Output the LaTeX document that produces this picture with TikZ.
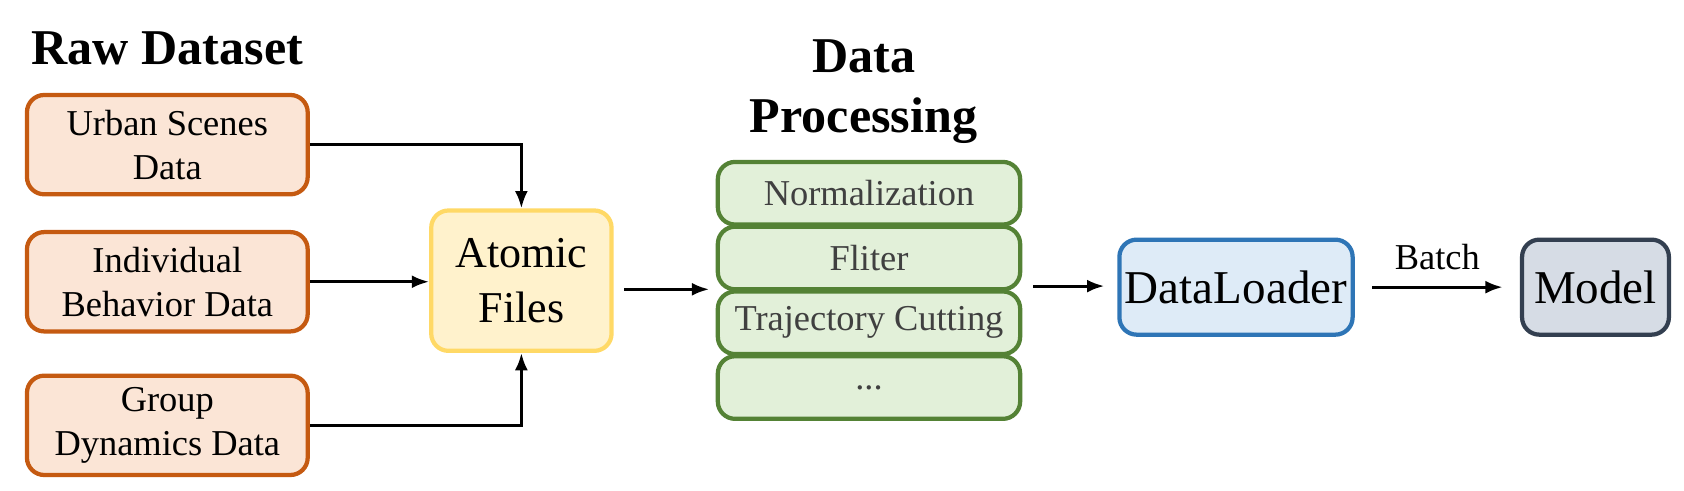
\documentclass[tikz,border=0pt]{standalone}
\usepackage{fontspec}
\setmainfont{Liberation Serif}
\usetikzlibrary{arrows.meta}
\definecolor{rawfill}{HTML}{FBE5D6}
\definecolor{rawdraw}{HTML}{C55A11}
\definecolor{atomfill}{HTML}{FFF2CC}
\definecolor{atomdraw}{HTML}{FFD966}
\definecolor{procfill}{HTML}{E2F0D9}
\definecolor{procdraw}{HTML}{548235}
\definecolor{loadfill}{HTML}{DEEBF7}
\definecolor{loaddraw}{HTML}{2E75B6}
\definecolor{modelfill}{HTML}{D6DCE5}
\definecolor{modeldraw}{HTML}{333F50}
\tikzset{
	>={Latex[length=4mm,width=3mm]},
	block/.style={
		rectangle,
		rounded corners=0.4cm,
		line width=2.8pt,
		align=center,
		inner sep=0pt
	},
	raw/.style={block, draw=rawdraw, fill=rawfill, minimum width=6.5cm, minimum height=2.3cm, font=\fontsize{24}{29}\selectfont},
	proc/.style={block, draw=procdraw, fill=procfill, minimum width=7cm, minimum height=1.45cm, text=black!75, font=\fontsize{24}{29}\selectfont},
	head/.style={font=\bfseries\fontsize{33}{40}\selectfont, align=center},
	link/.style={->, line width=2pt}
}
\begin{document}
\begin{tikzpicture}[x=0.025cm, y=-0.025cm]
	\useasboundingbox (0,0) rectangle (1560,454);

	\node[head] (rawtitle) at (155,45) {Raw Dataset};
	\node[head] (proctitle) at (800,85) {Data\\Processing};

	\node[raw] (urban) at (155,134) {Urban Scenes\\Data};
	\node[raw] (indiv) at (155,261) {Individual\\Behavior Data};
	\node[raw] (group) at (155,394) {Group\\Dynamics Data};

	\node[block, draw=atomdraw, fill=atomfill, minimum width=4.175cm, minimum height=3.25cm, font=\fontsize{29}{36}\selectfont] (atomic) at (483,260) {Atomic\\Files};

	\node[proc] (norm) at (805,179) {Normalization};
	\node[proc] (filt) at (805,239) {Fliter};
	\node[proc] (cut) at (805,299) {Trajectory Cutting};
	\node[proc] (dots) at (805,359) {...};

	\node[block, draw=loaddraw, fill=loadfill, minimum width=5.4cm, minimum height=2.2cm, font=\fontsize{31}{37}\selectfont] (loader) at (1145,266) {DataLoader};
	\node[block, draw=modeldraw, fill=modelfill, minimum width=3.4cm, minimum height=2.2cm, font=\fontsize{31}{37}\selectfont] (model) at (1478,266) {Model};

	\draw[link] (urban.east) -| (atomic.north);
	\draw[link] (indiv.east) -- (atomic.west |- indiv.east);
	\draw[link] (group.east) -| (atomic.south);
	\draw[link] ([xshift=0.25cm]atomic.east |- 0,268) -- ([xshift=-0.15cm]norm.west |- 0,268);
	\draw[link] ([xshift=0.25cm]norm.east |- 0,265) -- ([xshift=-0.3cm]loader.west |- 0,265);
	\draw[link] ([xshift=0.4cm]loader.east) -- node[above=0.25cm, font=\fontsize{24}{29}\selectfont] (batch) {Batch} ([xshift=-0.4cm]model.west);
\end{tikzpicture}
\end{document}
